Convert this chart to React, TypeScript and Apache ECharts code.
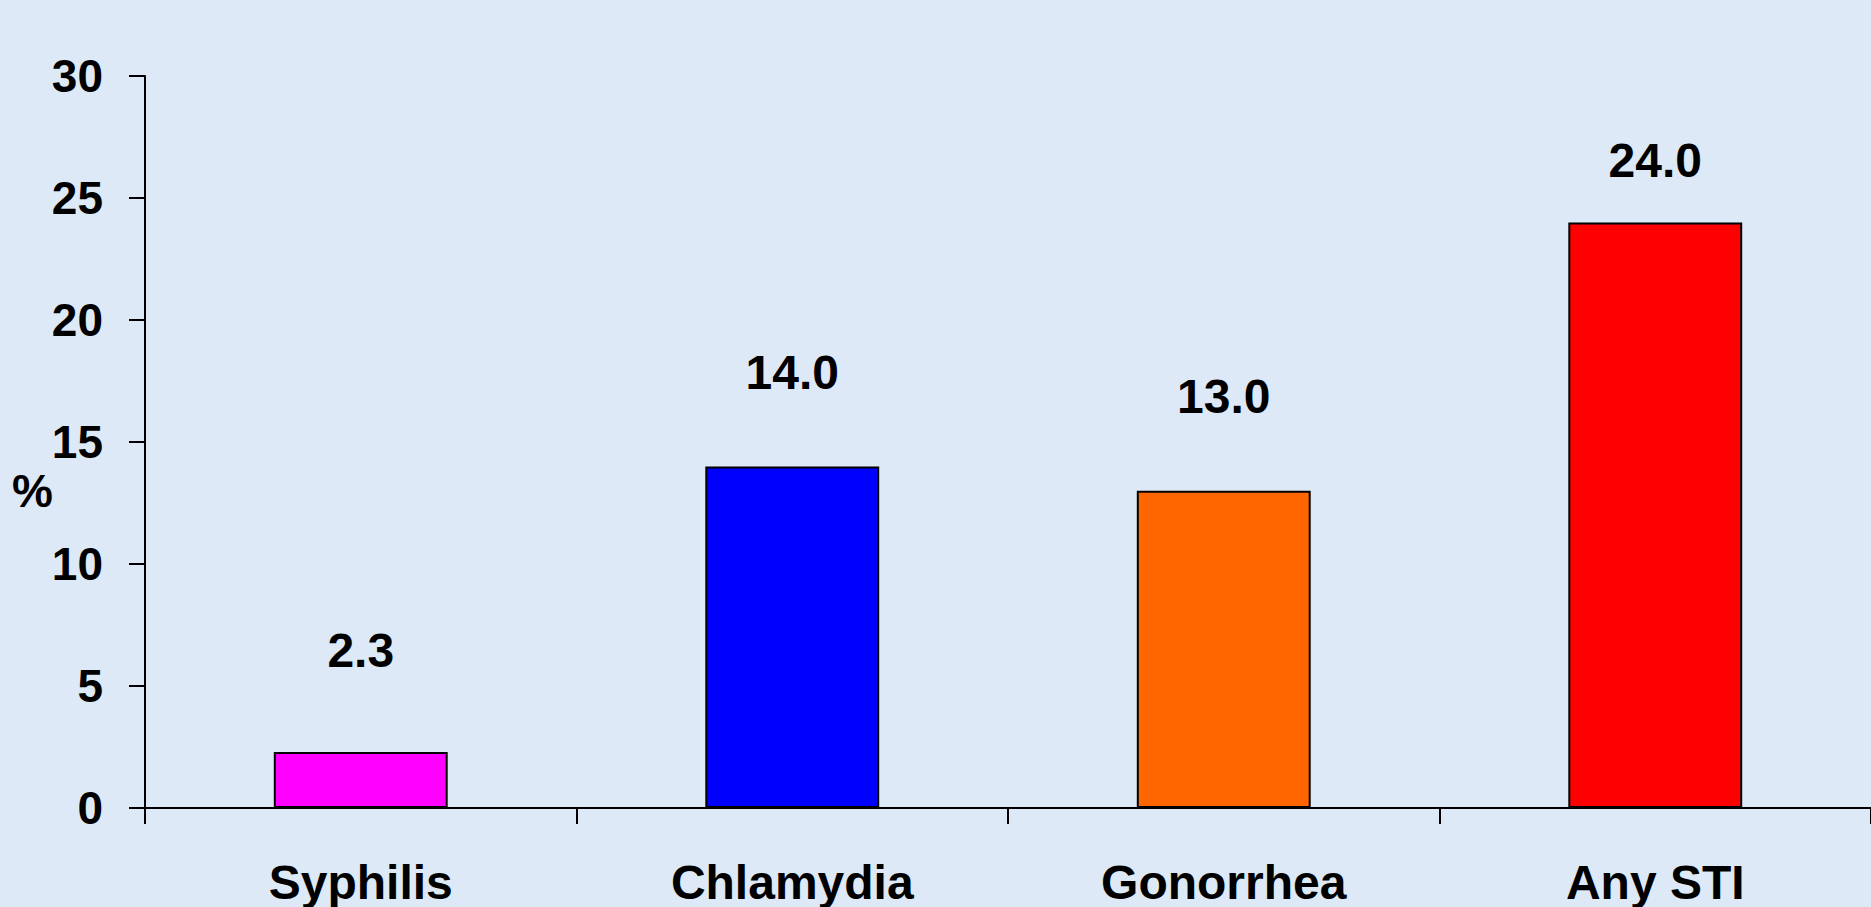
import React, { useEffect, useRef } from "react";
import * as echarts from "echarts";

const categories = ["Syphilis", "Chlamydia", "Gonorrhea", "Any STI"];
const values = [2.3, 14.0, 13.0, 24.0];
const barColors = ["#FF00FF", "#0000FF", "#FF6600", "#FF0000"];
const labelGaps = [77, 70, 70, 38];
const yTicks = [0, 5, 10, 15, 20, 25, 30];

const FONT = '"Liberation Sans", Arial, Helvetica, sans-serif';

export default function App() {
  const ref = useRef<HTMLDivElement>(null);
  useEffect(() => {
    if (!ref.current) return;
    const chart = echarts.init(ref.current, undefined, { renderer: "svg" });
    const option = {
      animation: false,
      backgroundColor: "#dde9f7",
      grid: { left: 145, right: 0, top: 76, bottom: 99, containLabel: false },
      xAxis: {
        type: "category",
        data: categories,
        axisLine: { show: true, lineStyle: { color: "#000", width: 2 } },
        axisTick: { show: true, length: 16, lineStyle: { color: "#000", width: 2 } },
        axisLabel: {
          color: "#000",
          fontFamily: FONT,
          fontWeight: "bold",
          fontSize: 48,
          margin: 50,
        },
        splitLine: { show: false },
      },
      yAxis: {
        type: "value",
        min: yTicks[0],
        max: yTicks[yTicks.length - 1],
        interval: 5,
        axisLine: { show: true, lineStyle: { color: "#000", width: 2 } },
        axisTick: { show: true, length: 16, lineStyle: { color: "#000", width: 2 } },
        axisLabel: {
          color: "#000",
          fontFamily: FONT,
          fontWeight: "bold",
          fontSize: 46,
          margin: 42,
        },
        splitLine: { show: false },
      },
      graphic: [
        {
          type: "text",
          left: 12,
          top: 468,
          style: {
            text: "%",
            fill: "#000",
            font: `bold 46px ${FONT}`,
          },
        },
      ],
      series: [
        {
          type: "bar",
          barWidth: "40.3%",
          data: values.map((v, i) => ({
            value: v,
            itemStyle: { color: barColors[i], borderColor: "#000", borderWidth: 2 },
            label: {
              show: true,
              position: "top",
              distance: labelGaps[i],
              formatter: (p: any) => Number(p.value).toFixed(1),
              color: "#000",
              fontFamily: FONT,
              fontWeight: "bold",
              fontSize: 48,
            },
          })),
        },
      ],
    };
    chart.setOption(option as any);
    return () => chart.dispose();
  }, []);
  return (
    <div
      ref={ref}
      style={{ position: "fixed", left: 0, top: 0, width: 1871, height: 907 }}
    />
  );
}
